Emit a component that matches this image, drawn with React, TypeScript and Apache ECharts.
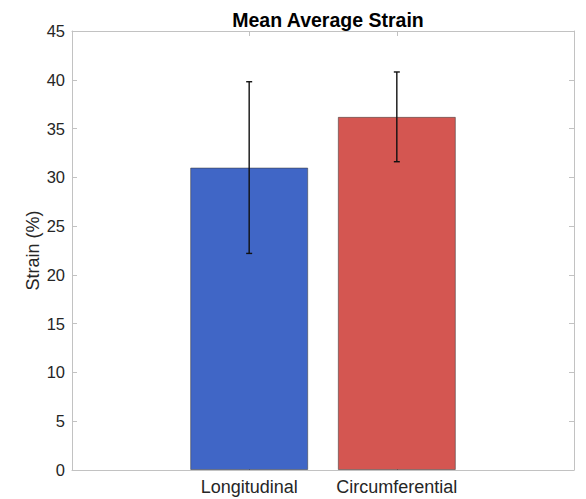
import React, { useEffect, useRef } from "react";
import * as echarts from "echarts";

const categories = ["Longitudinal", "Circumferential"];
const positions = [1, 2];
const means = [31.0, 36.2];
const errLow = [22.2, 31.6];
const errHigh = [39.8, 40.8];
const barColors = ["#4066c6", "#d45651"];
const yTicksMax = 45;

export default function App() {
  const ref = useRef<HTMLDivElement>(null);
  useEffect(() => {
    if (!ref.current) return;
    const chart = echarts.init(ref.current, null, { renderer: "svg" });
    const font = "'Liberation Sans', Arial, Helvetica, sans-serif";
    const axisColor = "#c2c2c2";
    const textColor = "#262626";
    const option: any = {
      animation: false,
      backgroundColor: "#ffffff",
      title: {
        text: "Mean Average Strain",
        left: 323,
        textAlign: "center",
        top: 5,
        textStyle: { fontFamily: font, fontSize: 19.5, fontWeight: "bold", color: "#000" },
      },
      grid: { left: 72, right: 12, top: 31, bottom: 29, containLabel: false },
      xAxis: [
        {
          type: "value",
          position: "bottom",
          min: -0.2,
          max: 3.2,
          axisLine: { show: true, onZero: false, lineStyle: { color: axisColor, width: 1 } },
          axisTick: { show: true, inside: true, length: 5, customValues: positions, lineStyle: { color: "#888" } },
          axisLabel: {
            show: true,
            customValues: positions,
            margin: 8,
            fontFamily: font,
            fontSize: 18,
            color: textColor,
            formatter: (v: number) => categories[Math.round(v) - 1] ?? "",
          },
          splitLine: { show: false },
        },
        {
          type: "value",
          position: "top",
          min: -0.2,
          max: 3.2,
          axisLine: { show: true, onZero: false, lineStyle: { color: axisColor, width: 1 } },
          axisTick: { show: true, inside: true, length: 5, customValues: positions, lineStyle: { color: axisColor } },
          axisLabel: { show: false },
          splitLine: { show: false },
        },
      ],
      yAxis: [
        {
          type: "value",
          position: "left",
          min: 0,
          max: yTicksMax,
          interval: 5,
          name: "Strain (%)",
          nameLocation: "middle",
          nameGap: 30,
          nameMoveOverlap: false,
          nameTextStyle: { fontFamily: font, fontSize: 18, color: textColor },
          axisLine: { show: true, onZero: false, lineStyle: { color: axisColor, width: 1 } },
          axisTick: { show: true, inside: true, length: 5, lineStyle: { color: axisColor } },
          axisLabel: { margin: 7, fontFamily: font, fontSize: 16.5, color: textColor },
          splitLine: { show: false },
        },
        {
          type: "value",
          position: "right",
          min: 0,
          max: yTicksMax,
          interval: 5,
          axisLine: { show: true, onZero: false, lineStyle: { color: axisColor, width: 1 } },
          axisTick: { show: true, inside: true, length: 5, lineStyle: { color: axisColor } },
          axisLabel: { show: false },
          splitLine: { show: false },
        },
      ],
      series: [
        {
          type: "bar",
          xAxisIndex: 0,
          yAxisIndex: 0,
          barWidth: 118,
          data: positions.map((p, i) => ({
            value: [p, means[i]],
            itemStyle: { color: barColors[i], borderColor: "rgba(60,60,60,0.55)", borderWidth: 1 },
          })),
          z: 2,
        },
        {
          type: "custom",
          xAxisIndex: 0,
          yAxisIndex: 0,
          data: positions.map((p, i) => [p, errLow[i], errHigh[i]]),
          z: 5,
          renderItem: (params: any, api: any) => {
            const x = api.value(0);
            const lo = api.coord([x, api.value(1)]);
            const hi = api.coord([x, api.value(2)]);
            const cw = 3;
            const style = { stroke: "#111", lineWidth: 1.4 };
            return {
              type: "group",
              children: [
                { type: "line", shape: { x1: lo[0], y1: lo[1], x2: hi[0], y2: hi[1] }, style },
                { type: "line", shape: { x1: lo[0] - cw, y1: lo[1], x2: lo[0] + cw, y2: lo[1] }, style },
                { type: "line", shape: { x1: hi[0] - cw, y1: hi[1], x2: hi[0] + cw, y2: hi[1] }, style },
              ],
            };
          },
        },
      ],
    };
    chart.setOption(option);
    return () => chart.dispose();
  }, []);
  return <div ref={ref} style={{ width: 586, height: 499, position: "absolute", left: 0, top: 0 }} />;
}
